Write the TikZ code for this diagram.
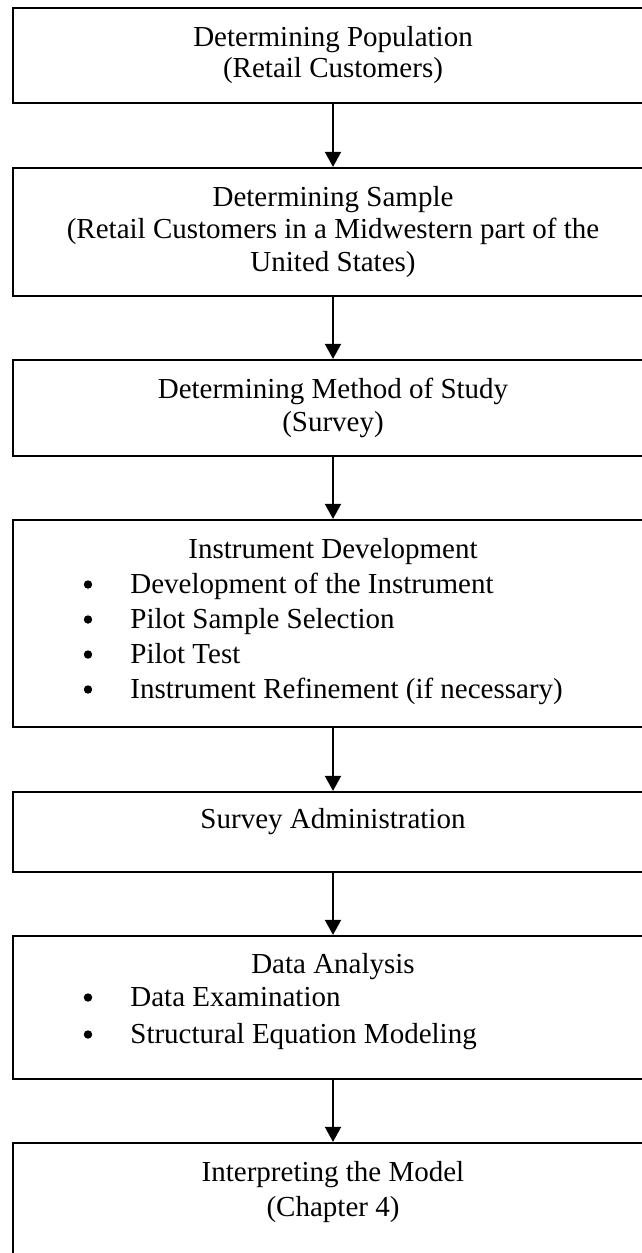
\documentclass[tikz,border=0pt]{standalone}
\usepackage{fontspec}
\setmainfont{Liberation Serif}
\usetikzlibrary{arrows.meta}
\begin{document}
\begin{tikzpicture}[x=0.5pt,y=-0.5pt,
  stepbox/.style={draw, line width=1.1pt, rectangle, inner sep=0pt, minimum width=320.3pt},
  txt/.style={anchor=base, inner sep=0pt, font=\fontsize{14.5pt}{17pt}\selectfont},
  btxt/.style={anchor=base west, inner sep=0pt, font=\fontsize{14.5pt}{17pt}\selectfont},
  bul/.style={circle, fill=black, inner sep=0pt, minimum size=4.2pt},
  arr/.style={line width=0.85pt, -{Triangle[width=8pt,length=7.5pt]}}]
\useasboundingbox (0,0) rectangle (642,1253);
\fill[white] (0,0) rectangle (642,1253);
% boxes
\node[stepbox, minimum height=47.5pt] (b1) at (333,55.5) {};
\node[stepbox, minimum height=64pt] (b2) at (333,232) {};
\node[stepbox, minimum height=48pt] (b3) at (333,408) {};
\node[stepbox, minimum height=103.5pt] (b4) at (333,623.5) {};
\node[stepbox, minimum height=40pt] (b5) at (333,832) {};
\node[stepbox, minimum height=71.5pt] (b6) at (333,1007.5) {};
\node[stepbox, minimum height=66pt] (b7) at (333,1209) {};
% texts
\node[txt] (t1a) at (333,46) {Determining Population};
\node[txt] (t1b) at (333,77) {(Retail Customers)};
\node[txt] (t2a) at (333,206) {Determining Sample};
\node[txt] (t2b) at (333,238) {(Retail Customers in a Midwestern part of the};
\node[txt] (t2c) at (333,271) {United States)};
\node[txt] (t3a) at (333,398) {Determining Method of Study};
\node[txt] (t3b) at (333,431) {(Survey)};
\node[txt] (t4a) at (333,558) {Instrument Development};
\node[bul] (u41) at (88,584.5) {};
\node[btxt] (t41) at (130,593) {Development of the Instrument};
\node[bul] (u42) at (88,619.5) {};
\node[btxt] (t42) at (130,628) {Pilot Sample Selection};
\node[bul] (u43) at (88,654.5) {};
\node[btxt] (t43) at (130,663) {Pilot Test};
\node[bul] (u44) at (88,689.5) {};
\node[btxt] (t44) at (130,698) {Instrument Refinement (if necessary)};
\node[txt] (t5a) at (333,828) {Survey Administration};
\node[txt] (t6a) at (333,973) {Data Analysis};
\node[bul] (u61) at (88,997.5) {};
\node[btxt] (t61) at (130,1006) {Data Examination};
\node[bul] (u62) at (88,1034.5) {};
\node[btxt] (t62) at (130,1043) {Structural Equation Modeling};
\node[txt] (t7a) at (333,1181) {Interpreting the Model};
\node[txt] (t7b) at (333,1216) {(Chapter 4)};
% arrows
\draw[arr] (b1) -- (b2);
\draw[arr] (b2) -- (b3);
\draw[arr] (b3) -- (b4);
\draw[arr] (b4) -- (b5);
\draw[arr] (b5) -- (b6);
\draw[arr] (b6) -- (b7);
\end{tikzpicture}
\end{document}
